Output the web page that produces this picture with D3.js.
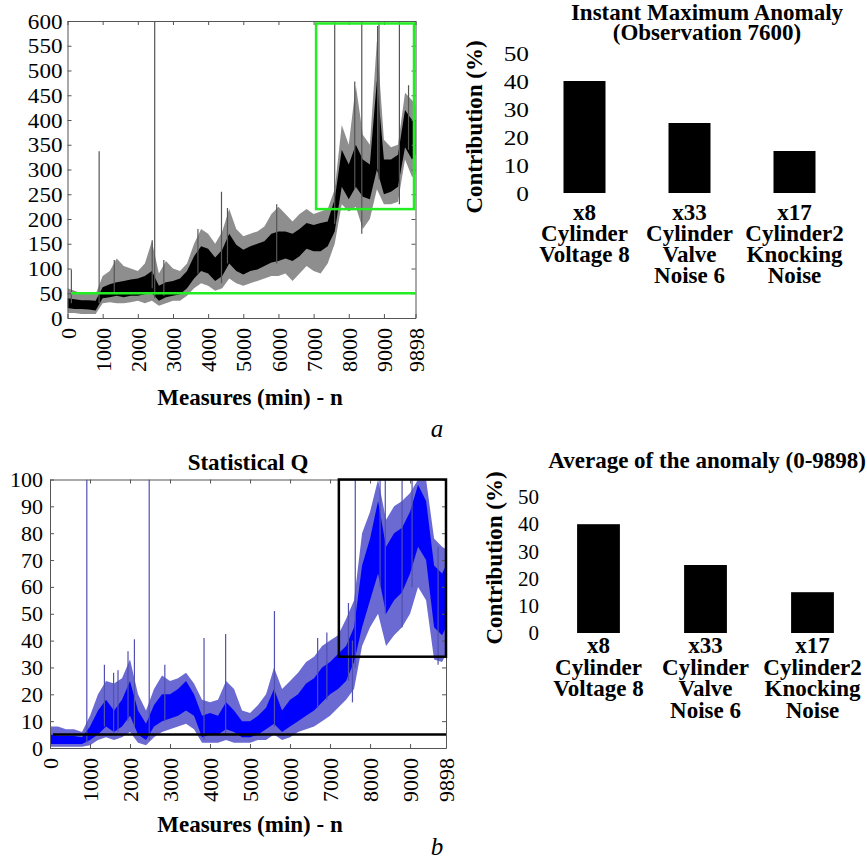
<!DOCTYPE html>
<html><head><meta charset="utf-8">
<script src="https://cdn.jsdelivr.net/npm/d3@7"></script>
</head><body style="margin:0;background:#fff">
<svg id="c" width="867" height="861"></svg>
<script>
// ---------- DATA ----------
const measureTicks = [0,1000,2000,3000,4000,5000,6000,7000,8000,9000,9898];
const binPos = [0,200,400,600,800,1000,1200,1400,1600,1800,2000,2200,2400,2600,2800,3000,3200,3400,3600,3800,4000,4200,4400,4600,4800,5000,5200,5400,5600,5800,6000,6200,6400,6600,6800,7000,7200,7400,7600,7800,8000,8200,8400,8600,8800,9000,9200,9400,9600,9800,9898];

// Panel a: anomaly index (black)
const aCoreLo = [20,18,18,17,15,40,42,45,42,45,45,48,50,35,42,45,48,60,80,95,90,75,85,110,95,88,95,98,105,112,115,120,115,125,140,135,135,145,175,265,240,265,245,240,300,250,255,265,345,320,330];
const aCoreHi = [40,38,36,36,35,62,68,72,75,78,80,85,95,65,72,75,80,95,125,145,140,122,138,170,148,138,145,150,155,170,175,175,170,180,192,188,192,195,240,340,310,350,320,310,480,320,320,330,420,400,400];
const aOutLo  = [10,10,8,8,8,30,32,30,30,32,35,30,35,25,30,35,35,45,60,70,65,55,60,80,70,65,70,75,80,85,85,90,75,90,105,95,90,110,150,230,215,225,180,200,260,230,230,235,320,285,290];
const aOutHi  = [60,55,50,52,48,85,95,120,105,100,95,110,155,90,115,100,95,110,150,180,170,150,175,220,180,165,170,175,185,210,225,210,195,210,220,210,215,220,260,390,350,470,370,350,560,360,345,350,455,440,430];
// isolated spikes: [measure, low, high]
const aSpikes = [[110,30,98],[900,30,337],[1330,50,117],[2410,60,157],[2480,40,600],[2740,45,117],[3710,90,180],[4380,70,255],[4550,110,222],[5950,110,230],[7600,190,600],[8170,260,478],[8370,170,600],[8820,300,590],[8860,280,600],[9440,230,600],[9700,340,470]];
const aThreshold = 50;
const aBox = {x0:7070, x1:9855, y0:220, y1:595};
const aYTicks = [0,50,100,150,200,250,300,350,400,450,500,550,600];

// Panel b: statistical Q (blue)
const bCoreLo = [1.5,1.5,1.5,1.5,1.5,3,5,8,6,8,12,5,3,8,10,11,12,14,12,4,5,5,7,6,4,4,5,7,9,6,8,10,12,14,17,20,22,25,32,45,55,65,50,55,58,65,75,70,45,42,45];
const bCoreHi = [5,4.5,4.5,4.5,4,8,14,18,14,18,25,14,9,16,20,20,22,25,20,12,13,12,17,14,10,10,12,15,22,14,18,20,24,26,30,32,35,38,45,68,78,92,75,80,82,88,98,92,68,65,68];
const bOutLo  = [0.5,0.5,0.5,0.5,0.5,1,3,4,3,4,6,2,1,4,6,7,8,9,7,2,2,2,3,2,2,2,3,3,5,3,4,6,7,8,10,12,15,18,22,38,45,50,38,42,45,50,60,55,33,32,35];
const bOutHi  = [8,8,7,7,6,12,20,25,24,26,33,20,14,22,27,25,26,28,24,18,17,18,25,22,14,13,16,20,30,22,25,28,32,34,38,40,42,48,55,80,88,100,85,90,92,95,100,100,78,75,74];
const bSpikes = [[920,2,100],[1360,8,31],[1590,5,28],[1700,6,29],[1950,10,36],[2110,8,40.5],[2480,3,100],[2870,10,31],[3850,3,41],[4390,5,42.5],[5610,8,51],[6690,15,41],[6920,18,43],[7460,25,54],[7560,17,40],[7630,30,100],[8250,60,100],[8380,50,100],[8800,45,100],[9050,60,100],[9700,31,75]];
const bThreshold = 5;
const bBox = {x0:7220, x1:9898, y0:34, y1:100};
const bYTicks = [0,10,20,30,40,50,60,70,80,90,100];

// Contribution bars
const contribLabels = [["x8","Cylinder","Voltage 8"],["x33","Cylinder","Valve","Noise 6"],["x17","Cylinder2","Knocking","Noise"]];
const contribInstant = [40,25,15];
const contribAverage = [40,25,15];
const contribTicks = [0,10,20,30,40,50];

// ---------- DRAW ----------
const FONT = "'Liberation Serif','Times New Roman',serif";
const svg = d3.select("#c");

function seriesPanel(o){
  const g = svg.append("g");
  const x = d3.scaleLinear().domain([0,9898]).range([o.left,o.right]);
  const y = d3.scaleLinear().domain([0,o.ymax]).range([o.bottom,o.top]);
  const cid = "clip"+o.id;
  svg.append("clipPath").attr("id",cid).append("rect")
    .attr("x",o.left).attr("y",o.top).attr("width",o.right-o.left).attr("height",o.bottom-o.top);
  const pg = g.append("g").attr("clip-path",`url(#${cid})`);
  const idx = d3.range(binPos.length);
  const outer = d3.area().x(i=>x(binPos[i])).y0(i=>y(o.outLo[i])).y1(i=>y(o.outHi[i]));
  const core = d3.area().x(i=>x(binPos[i])).y0(i=>y(o.coreLo[i])).y1(i=>y(o.coreHi[i]));
  pg.append("path").attr("d",outer(idx)).attr("fill",o.fringe);
  pg.append("path").attr("d",core(idx)).attr("fill",o.color);
  pg.selectAll("line.sp").data(o.spikes).join("line")
    .attr("x1",d=>x(d[0])).attr("x2",d=>x(d[0]))
    .attr("y1",d=>y(d[1])).attr("y2",d=>y(d[2]))
    .attr("stroke",o.spikeColor).attr("stroke-width",1.2);

  const styleAxis = s=>{ s.selectAll("path,line").attr("stroke","#555"); };
  const ax = g.append("g").attr("transform",`translate(0,${o.bottom})`)
    .call(d3.axisBottom(x).tickValues(measureTicks).tickSize(-4).tickSizeOuter(0).tickPadding(0).tickFormat(d3.format("d")));
  ax.call(styleAxis);
  ax.selectAll("text").attr("transform","rotate(-90)").attr("x",-10).attr("y",0).attr("dy","0.35em")
    .style("text-anchor","end").style("font-size","22px");
  g.append("g").attr("transform",`translate(0,${o.top})`)
    .call(d3.axisTop(x).tickValues(measureTicks).tickSize(-4).tickSizeOuter(0).tickFormat("")).call(styleAxis);
  const ay = g.append("g").attr("transform",`translate(${o.left},0)`)
    .call(d3.axisLeft(y).tickValues(o.yTicks).tickSize(-4).tickSizeOuter(0).tickFormat(d3.format("d")));
  ay.call(styleAxis);
  ay.selectAll("text").attr("x",0).attr("transform",`translate(${-o.ylabGap},0) scale(${o.ylabScale},1)`)
    .style("font-size",o.ylabSize+"px");
  g.append("g").attr("transform",`translate(${o.right},0)`)
    .call(d3.axisRight(y).tickValues(o.yTicks).tickSize(-4).tickSizeOuter(0).tickFormat("")).call(styleAxis);

  g.append("line").attr("x1",x(o.thrStart)).attr("x2",o.right).attr("y1",y(o.thr)).attr("y2",y(o.thr))
    .attr("stroke",o.markColor).attr("stroke-width",2.5);
  g.append("rect").attr("x",x(o.box.x0)).attr("y",y(o.box.y1))
    .attr("width",x(o.box.x1)-x(o.box.x0)).attr("height",y(o.box.y0)-y(o.box.y1))
    .attr("fill","none").attr("stroke",o.markColor).attr("stroke-width",2.5);

  g.append("text").attr("x",o.xlabX).attr("y",o.xlabY).attr("text-anchor","middle")
    .style("font-size","23px").style("font-weight","bold").text("Measures (min) - n");
  if(o.title) g.append("text").attr("x",o.titleX).attr("y",o.titleY).attr("text-anchor","middle")
    .style("font-size","23px").style("font-weight","bold").text(o.title);
}

seriesPanel({id:"a",left:67.5,right:415.5,top:21,bottom:318,ymax:600,
  coreLo:aCoreLo,coreHi:aCoreHi,outLo:aOutLo,outHi:aOutHi,spikes:aSpikes,
  color:"#000",fringe:"#8e8e8e",spikeColor:"#555",markColor:"#22ee22",thr:aThreshold,thrStart:100,box:aBox,
  yTicks:aYTicks,ylabGap:5,ylabScale:1.05,ylabSize:22,xlabX:250,xlabY:405});
seriesPanel({id:"b",left:50,right:446,top:479.5,bottom:748,ymax:100,
  coreLo:bCoreLo,coreHi:bCoreHi,outLo:bOutLo,outHi:bOutHi,spikes:bSpikes,
  color:"#0000ff",fringe:"#6a6ad2",spikeColor:"#5050b0",markColor:"#000",thr:bThreshold,thrStart:70,box:bBox,
  yTicks:bYTicks,ylabGap:7,ylabScale:1.0,ylabSize:22,xlabX:250,xlabY:832,
  title:"Statistical Q",titleX:248,titleY:470});

function barPanel(o){
  const g = svg.append("g");
  const x = d3.scaleBand().domain(d3.range(o.values.length)).range([o.x0,o.x1]).paddingInner(0.6).paddingOuter(0.2);
  const y = d3.scaleLinear().domain([0,50]).range([o.bottom,o.top]);
  g.selectAll("rect").data(o.values).join("rect")
    .attr("x",(d,i)=>x(i)).attr("width",x.bandwidth())
    .attr("y",d=>y(d)).attr("height",d=>y(0)-y(d)).attr("fill","#000");
  const ay = g.append("g").attr("transform",`translate(${o.axisX},0)`)
    .call(d3.axisLeft(y).tickValues(contribTicks).tickSize(0).tickFormat(d3.format("d")));
  ay.select(".domain").remove();
  ay.selectAll("text").attr("x",0).attr("transform",`scale(${o.ylabScale},1)`).style("font-size",o.ylabSize+"px");
  g.append("text").attr("transform",`translate(${o.ylabX},${o.ylabY}) rotate(-90)`).attr("text-anchor","middle")
    .style("font-size","23px").style("font-weight","bold").text("Contribution (%)");
  contribLabels.forEach((lines,i)=>{
    const t = g.append("text").attr("text-anchor","middle").style("font-size","23px").style("font-weight","bold");
    lines.forEach((s,j)=>t.append("tspan").attr("x",x(i)+x.bandwidth()/2).attr("y",o.labY+j*o.labDy).text(s));
  });
  o.title.forEach((s,j)=>g.append("text").attr("x",o.titleX).attr("y",o.titleY+j*20).attr("text-anchor",o.titleAnchor)
    .style("font-size","23px").style("font-weight","bold").text(s));
}
barPanel({values:contribInstant,x0:542.5,x1:836.5,top:53,bottom:193,axisX:529,ylabScale:1.15,ylabSize:22,ylabX:482,ylabY:127,
  labY:220,labDy:21,title:["Instant Maximum Anomaly","(Observation 7600)"],titleX:707,titleY:20,titleAnchor:"middle"});
barPanel({values:contribAverage,x0:555.7,x1:855.3,top:497,bottom:633,axisX:539,ylabScale:1.0,ylabSize:21,ylabX:502,ylabY:558,
  labY:653,labDy:21.5,title:["Average of the anomaly (0-9898)"],titleX:866,titleY:468,titleAnchor:"end"});

svg.append("text").attr("x",437).attr("y",437).attr("text-anchor","middle").style("font-size","25px").style("font-style","italic").text("a");
svg.append("text").attr("x",437).attr("y",855).attr("text-anchor","middle").style("font-size","25px").style("font-style","italic").text("b");

svg.selectAll("text").style("font-family",FONT).style("fill","#000");
</script>
</body></html>
